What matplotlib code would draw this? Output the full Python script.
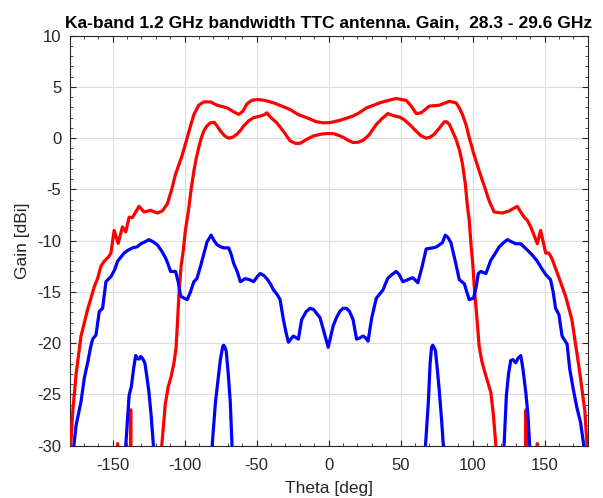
import numpy as np
import matplotlib
matplotlib.use("Agg")
import matplotlib.pyplot as plt
from matplotlib.ticker import MultipleLocator

# ---------------- data ----------------
r1_theta = [-180, -179, -177.7, -175.4, -172, -167.4, -162.8, -160.4, -158.2, -155.9, -153, -151.2,
            -149.0, -146.2, -143.2, -140.9, -138.6, -136.3, -131.7, -128.2, -123.6, -119, -115.5,
            -112, -109, -106.3, -102, -98.2, -95.5, -93.6, -90.2, -86.7, -82.1, -77.5, -70.5, -66,
            -62.5, -59.5, -56.7, -53.3, -48.7, -44, -38.3, -32.5, -26.8, -21, -15.2, -8.3, -3.7,
            0.9, 7.8, 17, 21.5, 26.3, 31, 35.5, 41.2, 47, 54, 57.4, 60.9, 64.3, 70, 77, 83.9, 88.5,
            90.8, 93, 95.5, 97.7, 101, 104.6, 108, 111.5, 115, 120.7, 125.4, 131, 133.5, 135.8,
            138, 140.4, 142.7, 145, 147.3, 150.8, 153, 155.3, 160, 164.6, 169, 173.8, 175, 176.5,
            178, 179.3, 180]
r1_gain = [-31, -29.5, -26.6, -23.0, -19.3, -16.7, -14.5, -13.65, -12.5, -12.0, -11.6, -11.2,
           -9.0, -10.26, -8.65, -9.14, -7.7, -7.75, -6.65, -7.2, -7.04, -7.3, -7.1,
           -6.4, -5.0, -3.5, -1.8, 0.06, 1.4, 2.3, 3.22, 3.54, 3.54, 3.22, 2.96, 2.58,
           2.32, 2.64, 3.35, 3.71, 3.77, 3.68, 3.45, 3.13, 2.8, 2.3, 2.0, 1.6, 1.5,
           1.52, 1.74, 2.16, 2.5, 2.96, 3.2, 3.45, 3.68, 3.87, 3.68, 3.13, 2.4, 2.48, 3.13, 3.22, 3.6, 3.45,
           2.96, 2.3, 1.3, 0.06, -1.6, -3.2, -4.6, -6.1, -7.2, -7.3, -7.1, -6.65, -7.2, -7.7,
           -8.0, -8.65, -9.46, -10.3, -9.0, -11.2, -11.2, -11.8, -13.6, -15.4, -17.7, -22.2, -23.4, -25.0,
           -26.6, -29.5, -31]

r2_theta = [-180, -160, -147.5, -146.6, -145.7, -140, -137.9, -137.5, -137.1, -130, -120, -116.5,
            -115.3, -113.5, -111.5, -109.5, -107.5, -106, -105, -104, -102.5, -101, -99.5, -97.5,
            -95.5, -93.6, -92, -90.2, -88.5, -86.7, -84.5, -82.1, -79.5, -77.5, -75.2, -72, -69.4,
            -66.5, -63.6, -61, -59, -55.5, -52.1, -47.5, -44.5, -42.9, -40, -36, -31, -26.8, -23,
            -19.8, -15, -10.6, -5, -1.4, 3.2, 6.5, 10, 13.5, 17, 20.5, 24, 28, 33.2, 37, 41.2, 45,
            49.3, 52.5, 56.2, 60, 64, 67.8, 70.5, 73.5, 77, 80.4, 82, 83.9, 86, 88.5, 91, 93, 95,
            96.5, 97.7, 99, 100.2, 101.2, 103, 104.6, 106.5, 109.3, 111, 112.7, 114.5, 116.2, 117,
            120, 130, 136.8, 137.2, 137.6, 144, 145, 146, 160, 180]
r2_gain = [-50, -45, -33, -29.8, -33, -40, -37, -26.5, -37, -45, -36, -31,
           -29.0, -26, -24.3, -23.3, -22, -20.5, -18, -15.3, -12.5, -11, -9, -7.2,
           -5, -3.2, -2, -0.9, 0, 0.7, 1.2, 1.5, 1.55, 1.2, 0.7, 0.2, 0.0,
           0.1, 0.4, 0.8, 1.2, 1.7, 2.0, 2.16, 2.3, 2.48, 2.0, 1.5, 0.6, -0.26, -0.5,
           -0.5, -0.1, 0.22, 0.4, 0.45, 0.45, 0.3, 0.1, -0.2, -0.42, -0.4, -0.2, 0.3, 1.35, 1.9, 2.4, 2.2,
           2.06, 1.8, 1.35, 0.8, 0.25, 0.0, 0.1, 0.4, 1.0, 1.6, 1.6, 1.35, 0.7, -0.1, -1.2, -2.5, -4.5,
           -6.7, -8.0, -10.5, -12.3, -14.5, -17.5, -20.3, -21.8, -23.2, -24, -24.8, -27, -30, -32,
           -38, -45, -37, -26.5, -37, -33, -29.8, -33, -45, -50]

b1_theta = [-178, -177, -175.4, -172, -169.7, -167.4, -165.5, -163.9, -161.6, -159.3, -157, -154.7,
            -151.2, -148.5, -146.6, -142, -139, -136.2, -133, -130.5, -127.5, -124.8, -122, -119,
            -116, -113.2, -111.5, -109.8, -106.3, -104.5, -102.8, -100.5, -98.2, -96, -93.6, -91.5,
            -89, -86.5, -84.4, -81.6, -79.5, -77.5, -75, -72.9, -69.4, -67.5, -66, -63.5, -61.3,
            -57.9, -55, -52.1, -49.5, -47.5, -45, -42.9, -40.5, -38.3, -35.5, -33.7, -31.4, -29.5,
            -27.9, -24.5, -21, -18.7, -15.5, -12.9, -10.5, -8.3, -6, -3.7, -1.5, -0.3, 1.2, 3.2,
            5.5, 7.8, 10, 12.4, 14.5, 17, 19.4, 21.5, 24, 25.8, 27.4, 30, 33.2, 35.5, 37.8, 39.5,
            41.2, 44, 47, 49, 51.6, 55, 58.5, 62, 65, 67.8, 72.3, 75, 77, 79, 81.1, 83, 85, 88,
            90.8, 94.3, 96, 97.7, 100.7, 102.5, 104, 105.8, 107.5, 109.3, 112.7, 115.5, 118.5,
            121.5, 124.2, 127, 130, 133.5, 138, 141.5, 145, 148, 150.8, 154.2, 156, 157.7, 160,
            162.2, 165.7, 167.5, 170, 172.5, 175, 177.3, 178]
b1_gain = [-31, -30, -28, -25.7, -23.4, -21.9, -20.5, -19.6, -19.2, -16.9, -16.6, -14,
           -13.5, -12.8, -12.0, -11.2, -10.9, -10.7, -10.6, -10.3, -10.1, -9.9, -10.1, -10.4,
           -11.0, -11.7, -12.3, -13.0, -13.0, -14.0, -15.4, -15.6, -15.75, -15.0, -14, -13.7,
           -12.5, -11.2, -10.1, -9.46, -10.0, -10.4, -10.6, -10.7, -10.7, -11.4, -12.2, -13.0, -14,
           -13.7, -13.8, -14, -13.5, -13.2, -13.4, -13.7, -14.2, -14.8, -15.3, -15.75, -17.7, -19,
           -19.9, -19.3, -19.6, -17.7, -16.9, -16.6, -16.7, -17.1, -17.5, -18.65, -19.8, -20.4, -19.5, -18.3,
           -17.5, -16.9, -16.6, -16.6, -16.9, -17.7, -19.6, -19.5, -19.3, -19.5, -19.8, -17.5, -15.6, -15.2, -14.8, -14.2,
           -13.65, -13.3, -13.0, -13.3, -14, -13.8, -13.6, -14.1, -12.5, -10.8, -10.7, -10.6, -10.4, -10.2, -9.46, -9.7, -10.2, -12,
           -13.8, -14.2, -15, -15.75, -15.6, -14.5, -13.2, -13.0, -13.1, -13.2, -11.9, -11.3, -10.6,
           -10.2, -9.9, -10.1, -10.3, -10.3, -10.9, -11.4, -12.0, -12.7, -13.3, -13.8, -15, -16.6, -17.2,
           -19.3, -20.1, -22.5, -24.5, -26.3, -27.7, -30, -31]

b2_theta = [-180, -150, -142, -140.9, -139.5, -138.6, -137, -135.5, -134, -132.8, -131.6, -130.5,
            -129.2, -127.7, -126.3, -124.8, -123.3, -121.7, -120, -100, -83, -80.9, -78.6, -75.2,
            -73.5, -72.9, -72, -71.1, -69.7, -68.3, -67.1, -65, -40, 0, 40, 65, 67.3, 69.3, 70.5,
            71.5, 72.3, 73.2, 74.2, 75.5, 77, 78.5, 79.7, 82, 100, 119, 121.9, 123.5, 125, 126.5,
            128, 130, 131.5, 133.5, 135, 137, 138.5, 139.7, 141, 150, 180]
b2_gain = [-45, -40, -33, -30, -27, -25.1, -24.2, -22.5, -21.2, -21.5, -21.55, -21.3,
           -21.5, -21.9, -23.2, -24.8, -27, -30, -35, -45, -35, -30, -25.75, -21.6,
           -20.3, -20.2, -20.4, -20.8, -23, -25.75, -30, -36, -45, -50, -45, -36, -30, -25.75, -22,
           -20.4, -20.2, -20.4, -20.7, -22.5, -24.8, -27.5, -30, -36, -45, -36, -30, -25.1, -23, -21.7,
           -21.6, -21.9, -21.5, -21.2, -22.5, -24.8, -27, -30, -33, -40, -45]

title_text = "Ka-band 1.2 GHz bandwidth TTC antenna. Gain,  28.3 - 29.6 GHz"
x_label = "Theta [deg]"
y_label = "Gain [dBi]"
x_ticks = [-150, -100, -50, 0, 50, 100, 150]
y_ticks = [10, 5, 0, -5, -10, -15, -20, -25, -30]

# ---------------- plot ----------------
plt.rcParams['font.family'] = ['Liberation Sans', 'DejaVu Sans']
plt.rcParams['axes.unicode_minus'] = False
txt = '#262626'
fig = plt.figure(figsize=(6.03, 4.98), dpi=100)
ax = fig.add_axes([69.5 / 603, 1 - 445.7 / 498, (587.7 - 69.5) / 603, (445.7 - 35.7) / 498])

lw = 2.3
ax.plot(r1_theta, r1_gain, color='#ff0000', lw=lw, zorder=3)
ax.plot(r2_theta, r2_gain, color='#ff0000', lw=lw, zorder=3)
ax.plot(b1_theta, b1_gain, color='#0000ff', lw=lw, zorder=3)
ax.plot(b2_theta, b2_gain, color='#0000ff', lw=lw, zorder=3)

ax.set_xlim(-180, 180)
ax.set_ylim(-30, 10)
ax.set_xticks(x_ticks)
ax.set_yticks(y_ticks)
ax.xaxis.set_minor_locator(MultipleLocator(10))
ax.yaxis.set_minor_locator(MultipleLocator(1))
ax.grid(True, which='major', color='#dcdcdc', lw=0.8, zorder=0)
ax.set_axisbelow(True)
ax.tick_params(which='both', direction='in', top=True, right=True, colors=txt,
               labelsize=12, labelcolor=txt)
ax.tick_params(which='major', length=4, width=0.8)
ax.tick_params(which='minor', length=2.5, width=0.6)
ax.tick_params(axis='x', pad=8.5)
ax.tick_params(axis='y', pad=6)
for s in ax.spines.values():
    s.set_color(txt)
    s.set_linewidth(0.8)

ax.set_xlabel(x_label, fontsize=12.5, color=txt, labelpad=6)
ax.set_ylabel(y_label, fontsize=12.5, color=txt, labelpad=5)
ax.set_title(title_text, fontsize=12.5, fontweight='bold', color='#000000', pad=6)

fig.savefig('out.png', dpi=100)
